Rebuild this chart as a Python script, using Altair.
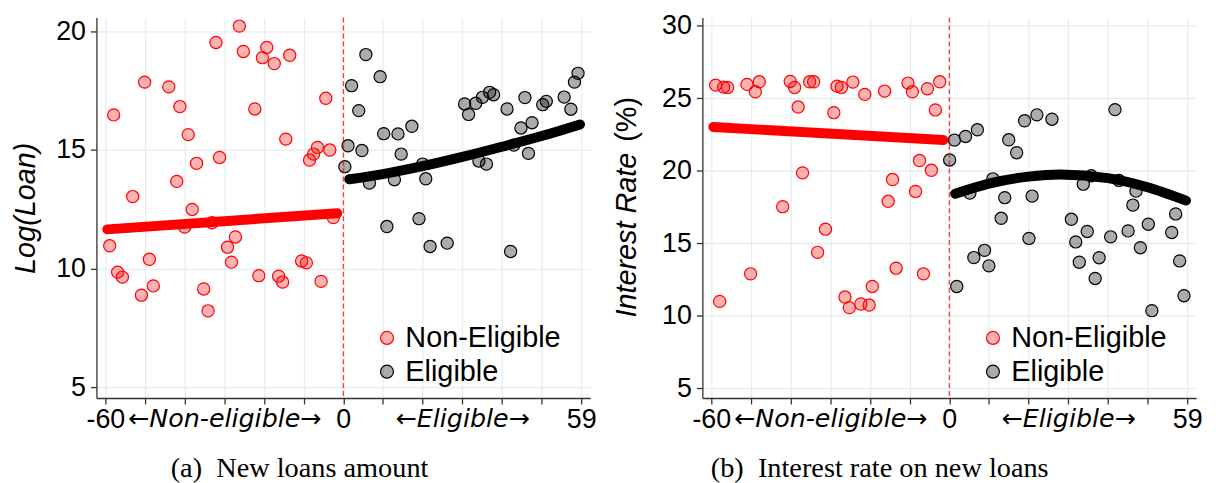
import altair as alt
import pandas as pd

# ---------------- data ----------------
# Panel (a): Log(Loan)
a_red_x = [-57.9, -53.1, -50.1, -44.0, -41.2, -42.0, -39.1, -37.0, -38.1, -40.0, -33.1, -32.1,
           -31.2, -26.2, -25.2, -22.3, -20.4, -19.3, -17.4, -13.5, -14.5, -27.2, -8.5, -7.5,
           -6.5, -3.4, -4.4, -2.5, -58.9, -56.9, -55.7, -48.9, -50.9, -47.9, -35.2, -34.1,
           -29.2, -28.2, -21.3, -16.3, -15.3, -10.5, -9.3, -5.6]
a_red_y = [16.47, 13.03, 17.85, 17.65, 16.82, 13.67, 15.64, 14.43, 12.49, 11.75, 11.93, 19.52,
           14.68, 20.21, 19.14, 16.72, 18.88, 19.31, 18.63, 18.98, 15.45, 11.33, 14.57, 14.82,
           15.10, 14.99, 17.17, 12.15, 10.96, 9.85, 9.64, 10.39, 8.88, 9.27, 9.14, 8.22,
           10.90, 10.27, 9.70, 9.68, 9.43, 10.32, 10.24, 9.46]
a_blk_x = [5.7, 2.1, 9.3, 3.9, 1.2, 4.7, 0.4, 10.2, 13.8, 17.3, 14.6, 6.6, 12.9, 20.0, 20.8,
           11.0, 19.1, 26.2, 21.9, 42.2, 30.6, 31.6, 33.4, 35.1, 36.9, 37.9, 41.3, 45.8, 50.3,
           51.2, 55.7, 57.4, 58.3, 59.2, 44.8, 47.6, 43.0, 46.7, 34.2, 36.1]
a_blk_y = [19.01, 17.70, 18.08, 16.65, 15.17, 14.97, 14.29, 15.68, 15.67, 15.99, 14.82, 13.60,
           13.74, 14.40, 13.78, 11.77, 12.10, 11.07, 10.93, 10.72, 16.93, 16.49, 16.96, 17.21,
           17.42, 17.32, 16.72, 17.20, 16.90, 17.04, 17.22, 16.71, 17.85, 18.22, 15.92, 16.14,
           15.20, 14.85, 14.53, 14.40]
a_fit_red_x = [-59.5, -1.5]
a_fit_red_y = [11.65, 12.33]
a_fit_blk_x = [1.5, 10, 20, 30, 40, 50, 59.7]
a_fit_blk_y = [13.76, 13.98, 14.31, 14.70, 15.13, 15.58, 16.07]

# Panel (b): Interest rate
b_red_x = [-58.9, -56.9, -55.9, -51.0, -48.9, -47.9, -40.1, -39.0, -35.2, -34.2, -38.1, -29.1,
           -28.3, -27.2, -24.3, -21.3, -16.3, -10.4, -9.3, -5.5, -2.4, -3.5, -37.0, -42.0,
           -31.2, -14.3, -15.4, -7.5, -4.5, -8.5, -57.9, -50.1, -33.2, -26.3, -25.2, -22.3,
           -20.2, -19.4, -13.4, -6.5]
b_red_y = [25.91, 25.77, 25.75, 25.96, 25.45, 26.14, 26.16, 25.75, 26.14, 26.14, 24.40, 24.01,
           25.84, 25.75, 26.12, 25.27, 25.50, 26.05, 25.45, 25.66, 26.14, 24.20, 19.86, 17.53,
           15.98, 19.40, 17.90, 20.71, 20.04, 18.58, 11.00, 12.90, 14.38, 11.30, 10.57, 10.82,
           10.75, 12.03, 13.29, 12.90]
b_blk_x = [0.1, 1.3, 4.1, 7.1, 15.0, 17.0, 19.0, 22.1, 25.9, 41.8, 5.2, 11.0, 14.0, 20.9, 13.1,
           33.8, 35.8, 42.8, 47.1, 46.3, 30.8, 57.1, 50.2, 45.1, 56.1, 40.7, 34.8, 20.1, 31.9,
           1.9, 6.2, 8.9, 10.0, 32.8, 37.8, 36.8, 48.2, 58.1, 59.2, 51.1]
b_blk_y = [20.75, 22.12, 22.37, 22.83, 22.14, 21.25, 23.45, 23.86, 23.56, 24.22, 18.47, 19.45,
           18.15, 18.26, 16.73, 19.08, 19.66, 19.34, 18.60, 17.64, 16.66, 17.03, 16.32, 15.86,
           15.75, 15.45, 15.82, 15.34, 15.10, 12.03, 14.02, 14.52, 13.45, 13.70, 14.01, 12.58,
           14.70, 13.79, 11.39, 10.36]
b_fit_red_x = [-59.5, -1.5]
b_fit_red_y = [23.02, 22.13]
b_fit_blk_x = [1.5, 10, 20, 28, 40, 50, 59.7]
b_fit_blk_y = [18.42, 19.12, 19.60, 19.75, 19.50, 18.87, 17.95]

groups = ["Non-Eligible", "Eligible"]
x_ticks = list(range(-60, 61, 10))
a_yticks = [5, 10, 15, 20]
b_yticks = [5, 10, 15, 20, 25, 30]

# ---------------- styling ----------------
FONT = "Liberation Sans"
SERIF = "Liberation Serif"
GRID = "#e6eef0"
AX = "#333333"
W, H = 497, 383


def panel(rx, ry, bx, by, frx, fry, fbx, fby, ydom, yticks, ytitle, caption, cap_dx):
    pts = pd.DataFrame({
        "x": rx + bx,
        "y": ry + by,
        "g": [groups[0]] * len(rx) + [groups[1]] * len(bx),
    })
    xaxis = alt.Axis(
        values=x_ticks,
        labelExpr=("datum.value == -60 ? '-60' : datum.value == -30 ? '\u2190Non-eligible\u2192' : "
                   "datum.value == 0 ? '0' : datum.value == 30 ? '\u2190Eligible\u2192' : "
                   "datum.value == 60 ? '59' : ''"),
        labelFontStyle={"condition": {"test": "abs(datum.value) == 30", "value": "italic"},
                        "value": "normal"},
        labelFont={"condition": {"test": "abs(datum.value) == 30", "value": "DejaVu Sans"},
                   "value": FONT},
        labelFontSize={"condition": {"test": "abs(datum.value) == 30", "value": 25.5},
                       "value": 27},
        labelOverlap=False, labelFlush=False, labelLimit=0, title=None,
        grid=True, gridColor=GRID, gridWidth=1.3,
        tickSize=6, tickColor=AX, tickWidth=1.3, domainColor=AX, domainWidth=1.3,
        labelColor="black", labelPadding=3,
    )
    yargs = dict(
        values=yticks, grid=True, gridColor=GRID, gridWidth=1.3,
        tickSize=6, tickColor=AX, tickWidth=1.3, domainColor=AX, domainWidth=1.3,
        labelFont=FONT, labelFontSize=27, labelColor="black", labelPadding=5,
    )
    if ytitle:
        yaxis = alt.Axis(title=ytitle, titleFont=FONT, titleFontSize=29, titleFontStyle="italic",
                         titleFontWeight="normal", titleColor="black", titlePadding=15, **yargs)
    else:
        yaxis = alt.Axis(title=None, **yargs)

    xs = alt.Scale(domain=[-62.25, 62.25], nice=False, zero=False)
    ys = alt.Scale(domain=ydom, nice=False, zero=False)
    leg = dict(orient="none", legendX=278, legendY=308, title=None, labelFont=FONT,
               labelFontSize=29, labelColor="black", symbolSize=170, symbolStrokeWidth=1.2,
               rowPadding=4, labelOffset=4, padding=0)

    points = alt.Chart(pts).mark_circle(size=150, strokeWidth=1.2, opacity=1).encode(
        x=alt.X("x:Q", scale=xs, axis=xaxis),
        y=alt.Y("y:Q", scale=ys, axis=yaxis),
        fill=alt.Fill("g:N", scale=alt.Scale(domain=groups,
                      range=["rgba(255,0,0,0.3)", "rgba(0,0,0,0.33)"]), legend=alt.Legend(**leg)),
        stroke=alt.Stroke("g:N", scale=alt.Scale(domain=groups, range=["#ff0000", "#000000"]),
                          legend=alt.Legend(**leg)),
    )
    rule = alt.Chart(pd.DataFrame({"x": [0]})).mark_rule(
        color="#ff0000", strokeWidth=1, strokeDash=[5, 3]).encode(x="x:Q")
    red_line = alt.Chart(pd.DataFrame({"x": frx, "y": fry})).mark_line(
        color="#ff0000", strokeWidth=10, strokeCap="round").encode(x="x:Q", y="y:Q")
    blk_line = alt.Chart(pd.DataFrame({"x": fbx, "y": fby})).mark_line(
        color="#000000", strokeWidth=10, strokeCap="round", interpolate="monotone").encode(
        x="x:Q", y="y:Q")
    layers = [points, rule, red_line, blk_line]
    if not ytitle:
        t1 = alt.Chart(pd.DataFrame({"t": ["Interest Rate"]})).mark_text(
            angle=270, align="left", baseline="middle", font=FONT, fontSize=29,
            fontStyle="italic", color="black").encode(
            text="t:N", x=alt.value(-76), y=alt.value(302))
        t2 = alt.Chart(pd.DataFrame({"t": ["(%)"]})).mark_text(
            angle=270, align="right", baseline="middle", font=FONT, fontSize=29,
            color="black").encode(text="t:N", x=alt.value(-76), y=alt.value(80))
        layers += [t1, t2]
    return alt.layer(*layers).properties(
        width=W, height=H,
        title=alt.TitleParams(caption, orient="bottom", anchor="middle", font=SERIF,
                              fontSize=28.5, fontWeight="normal", color="black", dx=cap_dx,
                              offset=22),
    )


left = panel(a_red_x, a_red_y, a_blk_x, a_blk_y, a_fit_red_x, a_fit_red_y, a_fit_blk_x,
             a_fit_blk_y, [4.55, 20.57], a_yticks, "Log(Loan)", "(a)\u2002New loans amount", -44)
right = panel(b_red_x, b_red_y, b_blk_x, b_blk_y, b_fit_red_x, b_fit_red_y, b_fit_blk_x,
              b_fit_blk_y, [4.34, 30.57], b_yticks, None, "(b)\u2002Interest rate on new loans", -70)

chart = alt.hconcat(left, right, spacing=113, bounds="flush").resolve_scale(
    x="independent", y="independent", fill="independent", stroke="independent"
).resolve_legend(fill="independent", stroke="independent").configure_view(
    stroke=None
).properties(padding={"left": 3, "top": 2, "right": 5, "bottom": 0})

chart.save("out.html", embed_options={"renderer": "svg", "actions": False})
